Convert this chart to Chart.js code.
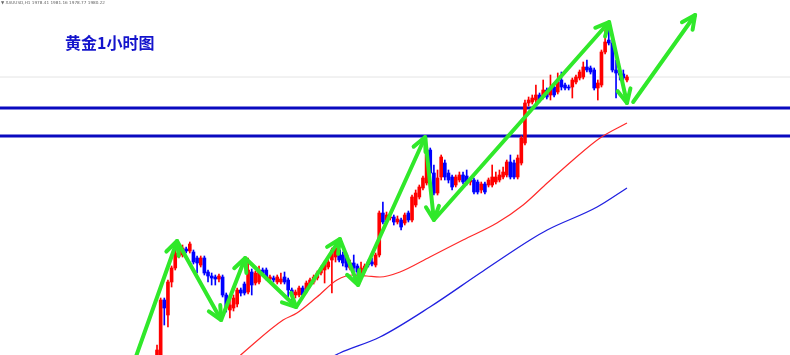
<!DOCTYPE html>
<html><head><meta charset="utf-8">
<script src="https://cdn.jsdelivr.net/npm/chart.js@4/dist/chart.umd.min.js"></script>
<style>
html,body{margin:0;padding:0;background:#fff;width:790px;height:355px;overflow:hidden}
#wrap{position:relative;width:790px;height:355px}
#c{position:absolute;left:0;top:0}
#hdr{position:absolute;left:1px;top:0px;font:4.2px 'DejaVu Sans',sans-serif;color:#666;white-space:nowrap;line-height:6px}
#ttl{position:absolute;left:65px;top:32px;font:bold 16px 'Noto Sans CJK SC',sans-serif;color:#1414cc;line-height:20px;white-space:nowrap}
</style></head><body>
<div id="wrap"><canvas id="c" width="790" height="355"></canvas>
<div id="hdr">▼ XAUUSD,H1 1978.41 1981.16 1978.77 1980.22</div>
<div id="ttl">黄金1小时图</div></div>
<script>
const openP=[1908.75,1910.5,1925,1921.25,1929.5,1933,1936,1936.25,1937.75,1937.25,
1937,1935.5,1933.75,1935.5,1932,1931,1930.75,1930.25,1930.75,1926.25,
1922.5,1923,1924,1927.5,1929,1927,1932,1929.25,1929.5,1932.5,
1932.5,1930.25,1930.5,1929.5,1929.5,1930.75,1930,1927.5,1926.25,1926.25,
1928,1927.5,1928.75,1929.5,1930.5,1931.75,1932.5,1933.25,1935,1935.75,
1937.5,1936.25,1936.25,1933,1934.25,1933.5,1931.75,1932.5,1934.5,1934.5,
1933.75,1936.25,1946.75,1945,1945.5,1945.75,1944.5,1945,1944.25,1946.75,
1945,1948.75,1950.75,1953,1954.25,1962.5,1956.75,1951.75,1955.75,1959.25,
1956.75,1955.75,1953.75,1955,1956.25,1956,1954.5,1955,1954.5,1952.5,
1954,1953.75,1953.75,1954.5,1955,1955.75,1956.25,1959.5,1959.25,1955.75,
1959.25,1964.25,1974.25,1974.5,1975,1976.25,1975.75,1977.5,1976.25,1978.25,
1977,1980,1978.75,1978.25,1978.25,1979.5,1980.5,1980.75,1983.25,1983,
1982.5,1978,1978.75,1987,1990,1989.25,1982.5,1981.75,1981.5,1980];
const closeP=[1912.5,1925,1923,1929.5,1933,1936.75,1937.5,1938,1937.25,1939,
1934.5,1934.25,1935.5,1931.75,1931,1930.5,1930.25,1931,1926.25,1923.25,
1923.75,1925.5,1927.5,1926.75,1926.75,1932.5,1928.75,1931.75,1932.5,1931.75,
1930.75,1930.75,1930,1930.75,1930.25,1929.5,1927.5,1926.25,1927,1928,
1926.25,1929.25,1930,1930.75,1931.75,1933,1934.25,1934.5,1937.5,1938,
1935,1934.25,1933.25,1934.25,1933,1932,1933,1933.5,1933.75,1934,
1936.25,1946.75,1944.5,1946.25,1945.75,1944.5,1945.25,1943.25,1946.25,1945,
1950.75,1951.75,1953.25,1955.5,1962.5,1956.75,1951.75,1955.5,1960.75,1955.75,
1955,1953.25,1955.75,1956.25,1954.5,1954.25,1955,1952,1952,1954,
1952,1955,1955.75,1955.75,1956.25,1957,1959.5,1955.75,1955.75,1960.5,
1965.5,1974.25,1975,1975.5,1976.25,1975,1977.5,1975.75,1978,1976.25,
1979.5,1978.25,1978,1978,1980,1980.75,1982,1983.25,1982.5,1982,
1978,1979.25,1987,1989.5,1989.25,1982.5,1981.75,1981.25,1980.5,1980.75];
const highP=[1913.75,1925.5,1925.5,1930,1933.5,1937.5,1939,1938.75,1938.25,1939.5,
1937.5,1936,1936,1936,1932.5,1931.75,1931.25,1931.5,1931.25,1926.75,
1925,1926.25,1928,1928,1929.5,1935.5,1932.75,1932.25,1933.5,1933,
1933,1931.25,1931,1931.25,1931.75,1932,1930.5,1928,1927.5,1928.5,
1928.5,1929.75,1930.5,1931.25,1932.25,1933.5,1934.75,1935.5,1938,1939.25,
1939,1937,1936.75,1935,1936.25,1934,1934.5,1934,1935,1935.5,
1936.75,1947.25,1949.5,1947,1946.5,1946.25,1946,1945.5,1946.75,1947.25,
1951.25,1952.5,1953.75,1956,1963.25,1963,1958.75,1957.5,1961.25,1960,
1957.5,1956.25,1956.25,1957,1957,1957.5,1955.5,1955.5,1955,1954.5,
1954.5,1955.5,1958.75,1957,1957.5,1958.25,1960,1961.25,1960,1961.25,
1966,1975,1975.75,1976.25,1978.75,1976.75,1980,1978,1981.25,1978.75,
1981.75,1982,1979.25,1978.75,1980.5,1981.25,1982.5,1984.5,1985,1983.5,
1983,1980,1987.5,1992.5,1993,1989.75,1985,1983,1982.5,1981.25];
const lowP=[1907.5,1910,1918.75,1918.25,1928.25,1932.5,1935.5,1935.75,1936.75,1936.75,
1934,1931.75,1933.25,1931.25,1929.5,1928.75,1928.75,1929.5,1925.75,1922,
1920.5,1922.25,1923.25,1926,1926.25,1926.5,1926.25,1928.75,1929,1931,
1930,1929.75,1929.5,1929,1929,1929,1925.75,1924.5,1925.5,1925.75,
1925.75,1926.75,1928.25,1929,1930,1931.25,1929.25,1932.75,1926.75,1934.5,
1934.5,1933.5,1932.5,1932.5,1932,1931,1930.5,1932,1933.25,1933.5,
1933.25,1935.75,1944,1944.5,1945,1943.75,1944,1942.5,1943.75,1944.5,
1944.5,1948.25,1950.25,1952.5,1953.75,1956.25,1951.25,1951.25,1955,1955,
1954.25,1952.5,1953.25,1954.5,1954,1953.75,1953.75,1951.5,1951.5,1951.75,
1951.5,1953.25,1953.25,1954,1954.5,1955.25,1955.75,1955.25,1955.25,1955.25,
1958.75,1963.75,1973.5,1974,1974.25,1974.5,1975.25,1975.25,1975,1975.75,
1976.5,1977.5,1977.5,1977.5,1975.5,1979,1980,1980.25,1982,1981.5,
1977.5,1975,1978.25,1986.5,1988.75,1982,1975.5,1980,1980,1979.5];
// moving averages: [candle index, price]
const maRed=[[21.4,1910],[23.6,1911.75],[34.6,1920],[38.4,1921.75],[43.9,1925.75],[49.4,1930],[53.8,1931.25],[57.6,1931],[61.2,1930.75],[66.7,1932],[74.9,1935.75],[84,1940],[93.3,1944.25],[100.5,1948.75],[107.1,1954.25],[114.2,1960],[121.6,1965.5],[129,1969.25]];
const maBlue=[[47.5,1910.5],[50.2,1911.75],[61.2,1915.75],[74.9,1923.25],[88.7,1931.75],[102.4,1940],[107.1,1942.5],[120.8,1948.25],[129,1953]];
// hand-drawn green arrows: [candle index, price]
const zigzag=[[-6.6,1908.75],[5.5,1939.75],[17.6,1920],[24.2,1935.5],[38.2,1923.25],[50.2,1940.25],[55.2,1928.75],[73.6,1965.75],[76,1945],[124.1,1994.5],[129,1974.25]];
const lastArrow=[[130.7,1974.5],[147.7,1996.25]];
const levels=[1973,1966];
const lastPrice=closeP[closeP.length-1];

const X_MIN=-43.1, X_MAX=173.75, Y_MIN=1911.25, Y_MAX=2000;
const UP='#ff0000', DN='#0000ff';
const col=openP.map((o,i)=>closeP[i]>=o?UP:DN);
const pts=a=>a.map(([x,y])=>({x,y}));
const GREEN='#30e82a';

const arrowHeads={id:'arrowHeads',afterDatasetsDraw(chart){
  const ctx=chart.ctx;
  chart.data.datasets.forEach((ds,di)=>{
    if(!ds.isArrow)return;
    const p=chart.getDatasetMeta(di).data;
    ctx.save();ctx.strokeStyle=GREEN;ctx.lineWidth=4;ctx.lineCap='round';ctx.lineJoin='round';
    for(let k=1;k<p.length;k++){
      const a=p[k-1],b=p[k];const ang=Math.atan2(b.y-a.y,b.x-a.x);const L=15,sp=0.45;
      ctx.beginPath();
      ctx.moveTo(b.x-L*Math.cos(ang-sp),b.y-L*Math.sin(ang-sp));
      ctx.lineTo(b.x,b.y);
      ctx.lineTo(b.x-L*Math.cos(ang+sp),b.y-L*Math.sin(ang+sp));
      ctx.stroke();
    }
    ctx.restore();
  });
}};

new Chart(document.getElementById('c'),{
  type:'bar',
  data:{datasets:[
    {type:'line',data:pts([[X_MIN,lastPrice],[X_MAX,lastPrice]]),borderColor:'#e4e4e4',borderWidth:1,pointRadius:0,order:9},
    {type:'line',data:pts([[X_MIN,levels[0]],[X_MAX,levels[0]]]),borderColor:'#0a0ac0',borderWidth:3,pointRadius:0,order:8},
    {type:'line',data:pts([[X_MIN,levels[1]],[X_MAX,levels[1]]]),borderColor:'#0a0ac0',borderWidth:3,pointRadius:0,order:8},
    {data:openP.map((o,i)=>({x:i,y:[lowP[i],highP[i]]})),backgroundColor:col,barThickness:1,grouped:false,order:5},
    {data:openP.map((o,i)=>({x:i,y:[o,closeP[i]]})),backgroundColor:col,barThickness:3,minBarLength:1,grouped:false,order:4},
    {type:'line',data:pts(maRed),borderColor:'#ff2a2a',borderWidth:1.2,pointRadius:0,cubicInterpolationMode:'monotone',order:3},
    {type:'line',data:pts(maBlue),borderColor:'#2020e0',borderWidth:1.3,pointRadius:0,cubicInterpolationMode:'monotone',order:3},
    {type:'line',isArrow:true,data:pts(zigzag),borderColor:GREEN,borderWidth:4,pointRadius:0,borderJoinStyle:'round',borderCapStyle:'round',order:0},
    {type:'line',isArrow:true,data:pts(lastArrow),borderColor:GREEN,borderWidth:4,pointRadius:0,borderCapStyle:'round',order:0}
  ]},
  options:{
    responsive:false,animation:false,devicePixelRatio:1,
    layout:{padding:0},
    plugins:{legend:{display:false},tooltip:{enabled:false},title:{display:false}},
    scales:{
      x:{type:'linear',min:X_MIN,max:X_MAX,offset:false,display:false},
      y:{min:Y_MIN,max:Y_MAX,display:false}
    }
  },
  plugins:[arrowHeads]
});
</script>
</body></html>
